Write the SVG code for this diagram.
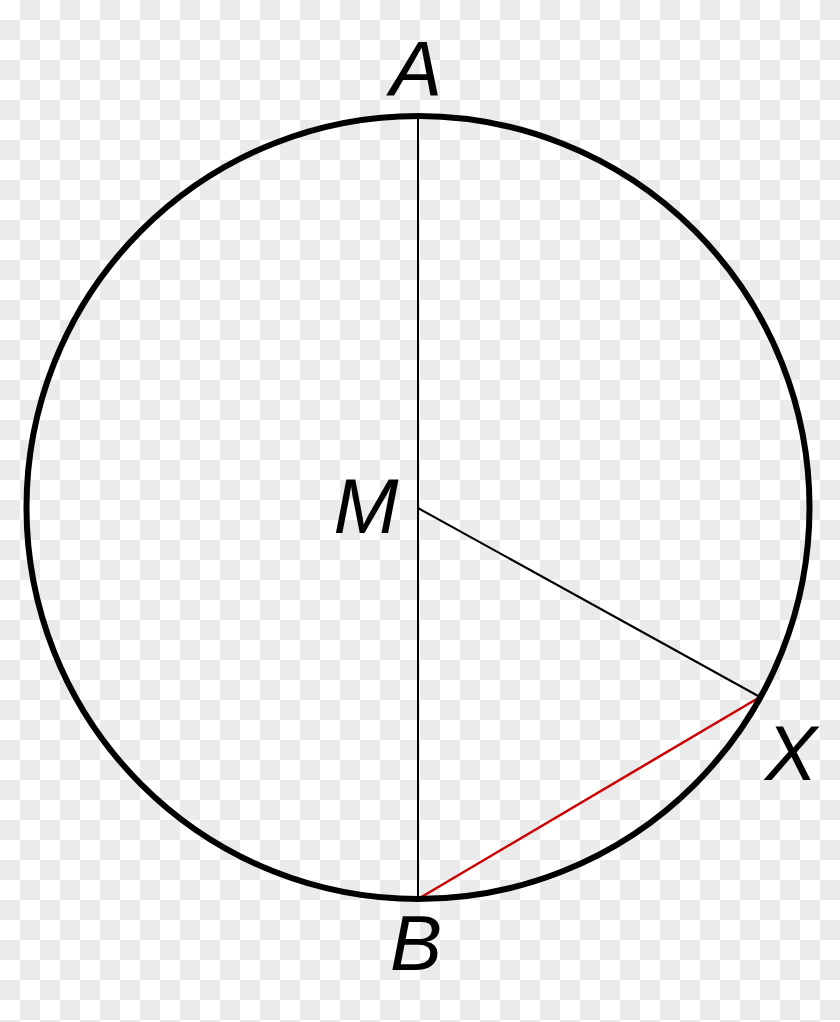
<svg xmlns="http://www.w3.org/2000/svg" width="840" height="1022" viewBox="0 0 840 1022">
  <defs>
    <pattern id="checker" width="40" height="40" patternUnits="userSpaceOnUse">
      <rect width="40" height="40" fill="#ffffff"/>
      <rect x="20" y="0" width="20" height="20" fill="#ebebeb"/>
      <rect x="0" y="20" width="20" height="20" fill="#ebebeb"/>
    </pattern>
  </defs>
  <style>
    .lbl { font-family: "Liberation Sans", Arial, sans-serif; font-style: italic; font-size: 78px; fill: #000; }
    .thin { stroke: #000; stroke-width: 2; fill: none; }
  </style>
  <rect width="840" height="1022" fill="url(#checker)"/>
  <g id="connectors">
    <line class="thin" x1="418" y1="116" x2="418" y2="899"/>
    <line class="thin" x1="418" y1="508" x2="760" y2="697"/>
    <line x1="418" y1="899" x2="760" y2="697" stroke="#cc0000" stroke-width="2.5"/>
  </g>
  <g id="circle">
    <circle cx="418" cy="507.5" r="391.5" fill="none" stroke="#000" stroke-width="6"/>
  </g>
  <g id="A"><text class="lbl" x="416" y="96" text-anchor="middle">A</text></g>
  <g id="M"><text class="lbl" x="366" y="533" text-anchor="middle">M</text></g>
  <g id="X"><text class="lbl" x="791" y="780" text-anchor="middle">X</text></g>
  <g id="B"><text class="lbl" x="416" y="970" text-anchor="middle">B</text></g>
</svg>
